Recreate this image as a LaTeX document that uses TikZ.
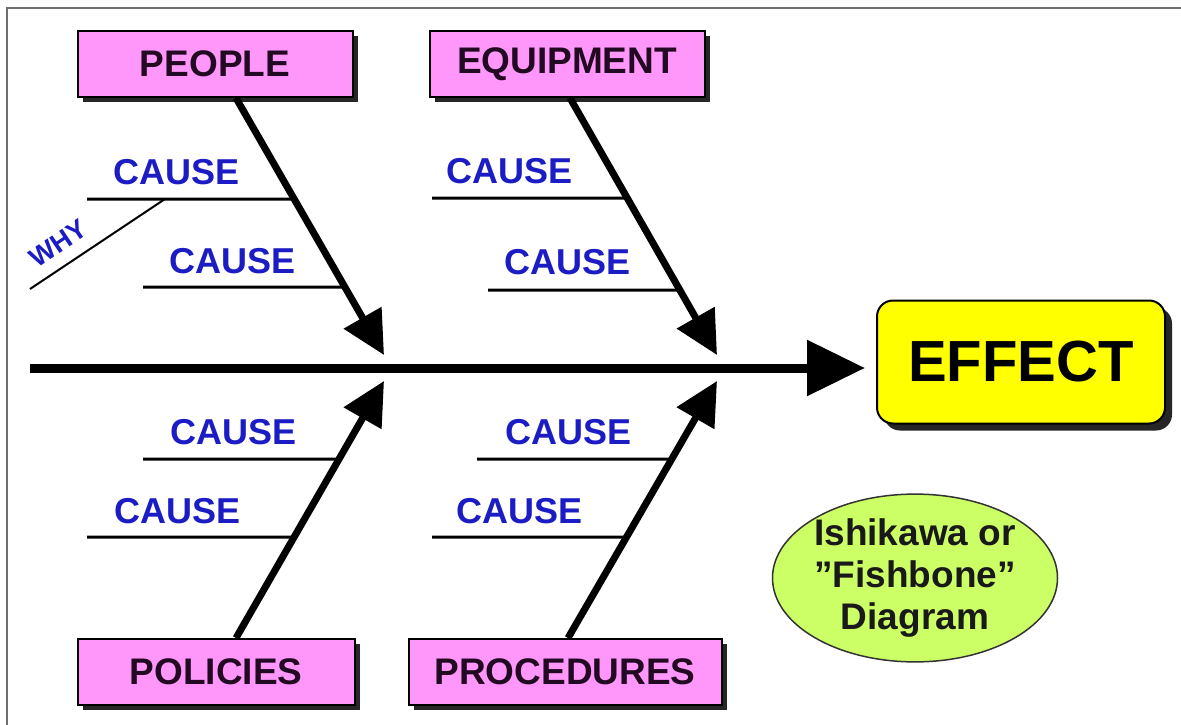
\documentclass[tikz,border=0pt]{standalone}
\usepackage{fontspec}
\setmainfont{Liberation Sans}
\usetikzlibrary{arrows.meta,shadows,shapes.geometric}
\definecolor{boxpink}{RGB}{255,150,250}
\definecolor{causeblue}{RGB}{28,28,196}
\definecolor{effyellow}{RGB}{255,255,0}
\definecolor{ellgreen}{RGB}{204,255,102}
\definecolor{framegrey}{RGB}{110,110,110}
\definecolor{boxtext}{RGB}{35,10,35}
\newcommand{\causebranch}[5]{%
  \path (#2,#3) coordinate (#1a) (#2+500,#3) coordinate (#1b);
  \draw[causeline] (#1a) -- (intersection of #4--#5 and #1a--#1b) coordinate (#1e);}
\begin{document}
\begin{tikzpicture}[x=1pt,y=-1pt,
  catbox/.style={draw=black, line width=2pt, fill=boxpink, minimum height=66pt,
    inner sep=0pt, font=\fontsize{37}{40}\selectfont\bfseries, text=boxtext,
    drop shadow={shadow xshift=5pt, shadow yshift=-5pt, fill=black!85, opacity=1}},
  effbox/.style={draw=black, line width=2pt, fill=effyellow, rounded corners=16pt,
    minimum width=288pt, minimum height=123pt, inner sep=0pt,
    font=\fontsize{58}{60}\selectfont\bfseries,
    drop shadow={shadow xshift=7pt, shadow yshift=-7pt, fill=black!85, opacity=1}},
  notebox/.style={ellipse, draw=black!80, line width=1.5pt, fill=ellgreen,
    minimum width=284pt, minimum height=146pt, inner sep=0pt, align=center,
    font=\fontsize{37}{42}\selectfont\bfseries, text=black!90},
  causetext/.style={font=\fontsize{36}{40}\selectfont\bfseries, text=causeblue, inner sep=0pt},
  whytext/.style={font=\fontsize{27}{30}\selectfont\bfseries, text=causeblue, inner sep=0pt},
  bone/.style={line width=7pt, -{Triangle[length=43pt,width=42pt]}},
  spine/.style={line width=9pt, -{Triangle[length=58pt,width=54pt]}},
  causeline/.style={line width=3pt},
  whyline/.style={line width=2pt},
  frameline/.style={draw=framegrey, line width=2pt}
]
\fill[white] (0,0) rectangle (1181,725);
\useasboundingbox (0,0) rectangle (1181,725);
\draw[frameline] (1181,8) -- (7,8) -- (7,725);

% category boxes
\node[catbox, minimum width=275pt] (people) at (215,64) {PEOPLE};
\node[catbox, minimum width=275pt] (equip) at (567,64) {EQUIPMENT};
\node[catbox, minimum width=277pt] (policies) at (216,672) {POLICIES};
\node[catbox, minimum width=313pt] (procedures) at (565,672) {PROCEDURES};

% effect and note
\node[effbox] (effect) at (1021,362) {EFFECT};
\node[notebox] (note) at (915,578) {Ishikawa or\\”Fishbone”\\Diagram};

% bone tips
\coordinate (t1) at (384,355);
\coordinate (t2) at (717,355);
\coordinate (t3) at (384,381);
\coordinate (t4) at (717,381);
\coordinate (s1) at ([xshift=21pt]people.south);
\coordinate (s2) at ([xshift=3pt]equip.south);
\coordinate (s3) at ([xshift=20pt]policies.north);
\coordinate (s4) at ([xshift=3pt]procedures.north);

% cause branches
\causebranch{ca}{87}{199}{s1}{t1}
\causebranch{cb}{143}{287}{s1}{t1}
\causebranch{cc}{432}{198}{s2}{t2}
\causebranch{cd}{488}{290}{s2}{t2}
\causebranch{ce}{143}{459}{s3}{t3}
\causebranch{cf}{87}{537}{s3}{t3}
\causebranch{cg}{477}{459}{s4}{t4}
\causebranch{ch}{432}{537}{s4}{t4}

% WHY sub-branch
\coordinate (w0) at (30,289);
\coordinate (w1) at (165,199);
\draw[whyline] (w0) -- (w1);
\node[whytext, rotate=34] (why) at (58,243) {WHY};

% bones
\draw[bone] (s1) -- (t1);
\draw[bone] (s2) -- (t2);
\draw[bone] (s3) -- (t3);
\draw[bone] (s4) -- (t4);

% spine
\coordinate (spine0) at (30,368);
\draw[spine, shorten >=11pt] (spine0) -- (spine0 -| effect.west);

% cause labels
\node[causetext] (l1) at (177,172) {CAUSE};
\node[causetext] (l2) at (233,261) {CAUSE};
\node[causetext] (l3) at (510,171) {CAUSE};
\node[causetext] (l4) at (568,262) {CAUSE};
\node[causetext] (l5) at (234,432) {CAUSE};
\node[causetext] (l6) at (178,511) {CAUSE};
\node[causetext] (l7) at (569,432) {CAUSE};
\node[causetext] (l8) at (520,511) {CAUSE};
\end{tikzpicture}
\end{document}
